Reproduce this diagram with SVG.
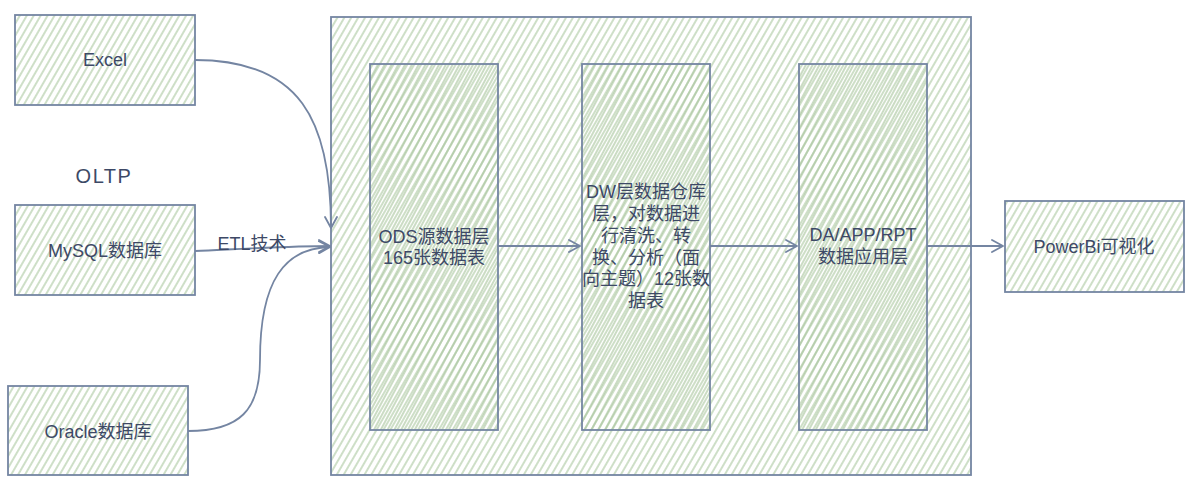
<svg xmlns="http://www.w3.org/2000/svg" width="1191" height="484" viewBox="0 0 1191 484">
<defs>
<pattern id="hach" width="6" height="6" patternUnits="userSpaceOnUse" patternTransform="rotate(30)">
<line x1="1" y1="0" x2="1" y2="6" stroke="#adc9a2" stroke-width="1.2"/>
</pattern>
<pattern id="hach2" width="6" height="6" patternUnits="userSpaceOnUse" patternTransform="rotate(28) translate(3 0)">
<line x1="1" y1="0" x2="1" y2="6" stroke="#a8c59c" stroke-width="1.2"/>
</pattern>
<marker id="arr" markerWidth="14" markerHeight="14" refX="12" refY="7" orient="auto" markerUnits="userSpaceOnUse">
<path d="M1,1 L12,7 L1,13" fill="none" stroke="#7485a2" stroke-width="1.8" stroke-linejoin="round" stroke-linecap="round"/>
</marker>
<style>
.box{fill:url(#hach);stroke:#7485a2;stroke-width:1.8}
.col{fill:url(#hach2);stroke:#7485a2;stroke-width:1.8}
.t{font-family:"Liberation Sans","Noto Sans CJK SC",sans-serif;font-size:18px;fill:#3d4966;text-anchor:middle}
.c{fill:none;stroke:#7485a2;stroke-width:1.8;marker-end:url(#arr)}
</style>
</defs>
<rect width="1191" height="484" fill="#ffffff"/>

<g id="warehouse">
<rect class="box" x="331" y="17" width="640" height="458"/>
</g>

<g id="excel">
<rect class="box" x="15" y="15" width="180" height="90"/>
<text class="t" x="105" y="66">Excel</text>
</g>

<g id="oltp-label">
<text class="t" x="104" y="183" style="font-size:20px;letter-spacing:1.5px">OLTP</text>
</g>

<g id="mysql">
<rect class="box" x="15" y="205" width="180" height="90"/>
<text class="t" x="105" y="257">MySQL数据库</text>
</g>

<g id="oracle">
<rect class="box" x="8" y="386" width="180" height="89"/>
<text class="t" x="98" y="438">Oracle数据库</text>
</g>

<g id="ods">
<rect class="col" x="370" y="64" width="128" height="366"/>
<text class="t" x="434" y="243">ODS源数据层</text>
<text class="t" x="434" y="264">165张数据表</text>
</g>

<g id="dw">
<rect class="col" x="582" y="64" width="128" height="366"/>
<text class="t" x="646" y="198">DW层数据仓库</text>
<text class="t" x="646" y="220">层，对数据进</text>
<text class="t" x="646" y="242">行清洗、转</text>
<text class="t" x="646" y="264">换、分析（面</text>
<text class="t" x="646" y="285">向主题）12张数</text>
<text class="t" x="646" y="307">据表</text>
</g>

<g id="da">
<rect class="col" x="799" y="64" width="128" height="366"/>
<text class="t" x="863" y="241">DA/APP/RPT</text>
<text class="t" x="863" y="263">数据应用层</text>
</g>

<g id="powerbi">
<rect class="box" x="1005" y="201" width="179" height="91"/>
<text class="t" x="1094" y="253">PowerBi可视化</text>
</g>

<g id="connectors">
<path class="c" d="M195 60 C 300 60, 331 120, 331 228"/>
<path class="c" d="M195 251 C 240 249, 290 246, 330 246"/>
<path class="c" d="M188 431 C 240 431, 260 410, 260 360 C 260 280, 285 248, 330 247"/>
<path class="c" d="M498 246 L 580 246"/>
<path class="c" d="M710 246 L 797 246"/>
<path class="c" d="M927 246 L 1003 246"/>
<text class="t" x="252" y="250">ETL技术</text>
</g>
</svg>
